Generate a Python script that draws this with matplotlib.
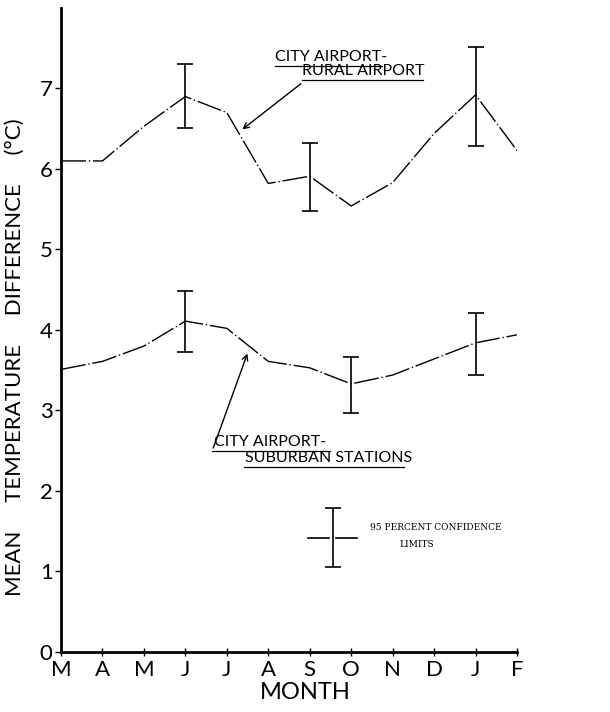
import matplotlib.pyplot as plt

months = ["M", "A", "M", "J", "J", "A", "S", "O", "N", "D", "J", "F"]

# city airport - rural airport
rural = [6.10, 6.10, 6.53, 6.90, 6.70, 5.82, 5.91, 5.54, 5.83, 6.44, 6.92, 6.23]
rural_err_idx = [3, 6, 10]
rural_err_lo = [6.51, 5.48, 6.28]
rural_err_hi = [7.30, 6.32, 7.52]

# city airport - suburban stations
suburb = [3.51, 3.61, 3.80, 4.11, 4.02, 3.61, 3.53, 3.33, 3.44, 3.64, 3.84, 3.94]
suburb_err_idx = [3, 7, 10]
suburb_err_lo = [3.73, 2.97, 3.44]
suburb_err_hi = [4.48, 3.67, 4.21]

FONT = "Lato"

fig = plt.figure(figsize=(6.10, 7.12), dpi=100)
ax = fig.add_axes([0.1, 0.0843, 0.7475, 0.9045])

x = list(range(len(months)))
ls = (0, (18, 2, 1, 2))
ax.plot(x, rural, color="black", lw=1.0, linestyle=ls)
ax.plot(x, suburb, color="black", lw=1.0, linestyle=ls)

def bars(idx, vals, lo, hi):
    for i, l, h in zip(idx, lo, hi):
        v = vals[i]
        ax.errorbar([i], [v], yerr=[[v - l], [h - v]], fmt="none",
                    ecolor="black", elinewidth=1.2, capsize=6, capthick=1.2)

bars(rural_err_idx, rural, rural_err_lo, rural_err_hi)
bars(suburb_err_idx, suburb, suburb_err_lo, suburb_err_hi)

# confidence-limit key
kx, ky = 6.55, 1.42
ax.errorbar([kx], [ky], yerr=[[0.37], [0.37]], fmt="none", ecolor="black",
            elinewidth=1.2, capsize=6, capthick=1.2)
ax.plot([kx - 0.6, kx - 0.08], [ky, ky], color="black", lw=1.2)
ax.plot([kx + 0.08, kx + 0.6], [ky, ky], color="black", lw=1.2)
ax.text(7.45, 1.55, "95 PERCENT CONFIDENCE", fontsize=6.5, family="DejaVu Serif",
        ha="left", va="center")
ax.text(8.58, 1.33, "LIMITS", fontsize=6.5, family="DejaVu Serif",
        ha="center", va="center")

# labels with arrows
ax.annotate("", xy=(4.32, 6.47), xytext=(5.84, 7.08),
            arrowprops=dict(arrowstyle="->", color="black", lw=1.0))
ax.text(5.16, 7.3, "CITY AIRPORT-", fontsize=11.5, family=FONT, ha="left",
        va="bottom")
ax.plot([5.16, 7.75], [7.28, 7.28], color="black", lw=0.9)
ax.text(5.82, 7.13, "RURAL AIRPORT", fontsize=11.5, family=FONT, ha="left",
        va="bottom")
ax.plot([5.82, 8.73], [7.11, 7.11], color="black", lw=0.9)

ax.annotate("", xy=(4.52, 3.74), xytext=(3.65, 2.5),
            arrowprops=dict(arrowstyle="->", color="black", lw=1.0))
ax.text(3.7, 2.52, "CITY AIRPORT-", fontsize=11.5, family=FONT, ha="left",
        va="bottom")
ax.plot([3.65, 6.48], [2.5, 2.5], color="black", lw=0.9)
ax.text(4.44, 2.32, "SUBURBAN STATIONS", fontsize=11.5, family=FONT, ha="left",
        va="bottom")
ax.plot([4.42, 8.28], [2.3, 2.3], color="black", lw=0.9)

ax.set_xlim(0, 11)
ax.set_ylim(0, 8)
ax.set_xticks(x)
ax.set_xticklabels(months, family=FONT, fontsize=16)
ax.set_yticks(range(8))
ax.set_yticklabels([str(v) for v in range(8)], family=FONT, fontsize=16)
ax.tick_params(axis="x", direction="inout", length=6, width=1.0, pad=3)
ax.tick_params(axis="y", direction="out", length=4, width=1.0, pad=2)

for s in ["top", "right"]:
    ax.spines[s].set_visible(False)
ax.spines["left"].set_linewidth(2.0)
ax.spines["bottom"].set_linewidth(2.0)

ax.set_xlabel("MONTH", family=FONT, fontsize=17, va="center")
ax.xaxis.set_label_coords(0.535, -0.063)
ax.set_ylabel("MEAN     TEMPERATURE     DIFFERENCE     (°C)", family=FONT,
              fontsize=16)
ax.yaxis.set_label_coords(-0.079, 0.458)

fig.savefig("out.png", dpi=100, facecolor="white")
